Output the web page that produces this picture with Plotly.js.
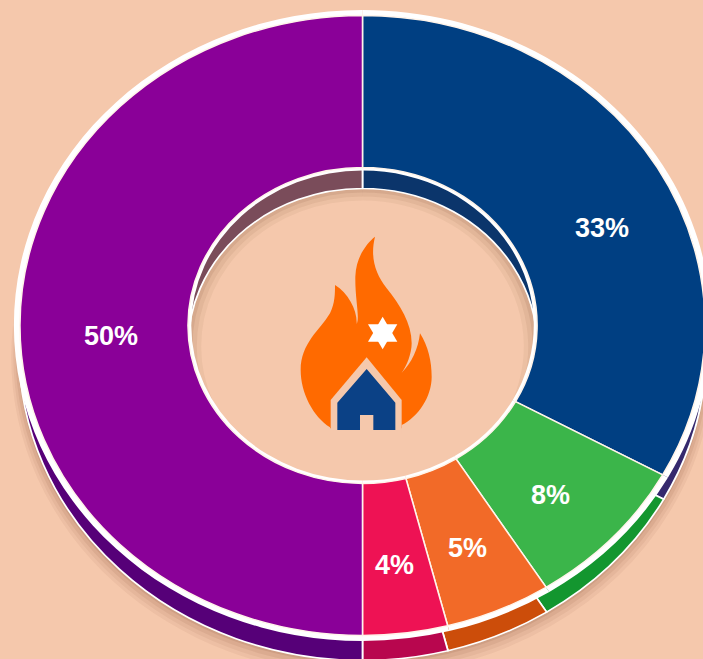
<!DOCTYPE html>
<html>
<head>
<meta charset="utf-8">
<script src="https://cdn.plot.ly/plotly-3.0.1.min.js"></script>
<style>html,body{margin:0;padding:0;overflow:hidden;background:#f5c8ac;width:703px;height:659px}</style>
</head>
<body>
<div id="chart" style="width:703px;height:700px"></div>
<script>
var categories = ["Navy", "Green", "Orange", "Crimson", "Purple"];
var shares = [33, 8, 5, 4, 50];
var faceColors = ["#003f82", "#3bb54a", "#f26a28", "#ee1254", "#8a0098"];
var sideColors = ["#35296e", "#13962f", "#cc4d0a", "#b8064e", "#560078"];
var wallColors = ["#0b356b", "#0b356b", "#0b356b", "#7a4c5a", "#7a4c5a"];

var BG = "#f5c8ac", W = 703, H = 700, CX = 362.5, CY = 325.5, DEPTH = 21, STRETCH = 1.105;

function ring(cy, rOuter, rInner, colors, lineW, lineC) {
  return {
    type: "pie", labels: categories, values: shares, sort: false, direction: "clockwise", rotation: 0,
    hole: rInner / rOuter, textinfo: "none", hoverinfo: "skip", showlegend: false,
    domain: {x: [0, 1], y: [1 - (cy + rOuter) / H, 1 - (cy - rOuter) / H]},
    marker: {colors: colors, line: {color: lineC || "#ffffff", width: lineW}}
  };
}
function flat(c) { return shares.map(function () { return c; }); }

var traces = [
  ring(CY + 32, 318, 200, flat("rgba(100,45,20,0.05)"), 0),
  ring(CY + 30, 316, 200, flat("rgba(100,45,20,0.06)"), 0),
  ring(CY + 28, 314, 200, flat("rgba(100,45,20,0.08)"), 0),
  ring(CY + 26, 312, 200, flat("rgba(100,45,20,0.10)"), 0),
  ring(CY + 24, 311, 200, sideColors, 1.6),
  ring(CY + DEPTH, 190, 146, flat("rgba(110,60,35,0.06)"), 0),
  ring(CY + DEPTH, 190, 150, flat("rgba(110,60,35,0.08)"), 0),
  ring(CY + DEPTH, 190, 154, flat("rgba(110,60,35,0.10)"), 0),
  ring(CY + DEPTH, 185, 158, wallColors, 1.6),
  ring(CY, 315.5, 155, flat("#ffffff"), 0),
  ring(CY, 310, 158, faceColors, 1.4, "#fff4ea")
];

// Percent labels, one per slice, read from shares
var labelFont = {family: "Liberation Sans, Arial, sans-serif", size: 27, color: "#ffffff", weight: 700};
var labelSpots = [[602, 228], [550, 495], [467, 548], [395, 565], [111, 336]];
var annotations = shares.map(function (v, i) {
  return {
    text: "<b>" + v + "%</b>", showarrow: false, xref: "paper", yref: "paper",
    x: labelSpots[i][0] / W, y: 1 - labelSpots[i][1] / H,
    xanchor: "center", yanchor: "middle", font: labelFont
  };
});

// Icon outlines written in a 510x660 drawing box, placed on the page by toPaper
function toPaper(d) {
  return d.replace(/(-?[\d.]+),(-?[\d.]+)/g, function (m, x, y) {
    var px = 280 + parseFloat(x) / 3, py = 220 + parseFloat(y) / 3;
    return (px / W).toFixed(5) + "," + (1 - py / H).toFixed(5);
  });
}
function icon(d, fill) {
  return {type: "path", xref: "paper", yref: "paper", layer: "above", path: toPaper(d),
          fillcolor: fill, line: {width: 0}};
}
var shapes = [
  icon("M150,622 C100,590 62,520 62,450 C62,370 120,330 150,280 C165,250 165,220 165,195 C205,220 232,270 230,312 C240,290 225,240 226,170 C228,110 260,70 285,50 C270,110 285,160 320,205 C360,255 395,310 395,370 C395,400 380,440 365,458 C395,430 415,385 420,340 C445,380 455,425 455,470 C455,530 415,590 365,615 L365,625 L150,625 Z", "#ff6a00"),
  icon("M152,640 L152,540 L260,412 L365,540 L365,640 Z", BG),
  icon("M172,630 L172,548 L260,447 L346,548 L346,630 L280,630 L280,585 L240,585 L240,630 Z", "#0b4186"),
  icon("M308,290 L352,365 L264,365 Z", "#ffffff"),
  icon("M308,388 L264,313 L352,313 Z", "#ffffff")
];

var layout = {
  width: W, height: H, margin: {l: 0, r: 0, t: 0, b: 0},
  paper_bgcolor: BG, plot_bgcolor: BG, showlegend: false, shapes: shapes, annotations: annotations
};

Plotly.newPlot("chart", traces, layout, {displayModeBar: false, staticPlot: true}).then(function () {
  // The reference donut is an ellipse: widen the pie layer about its centre.
  var g = document.querySelector("#chart .pielayer");
  var tx = CX - (W / 2) * STRETCH;
  g.setAttribute("transform", "translate(" + tx + ",0) scale(" + STRETCH + ",1)");
});
</script>
</body>
</html>
